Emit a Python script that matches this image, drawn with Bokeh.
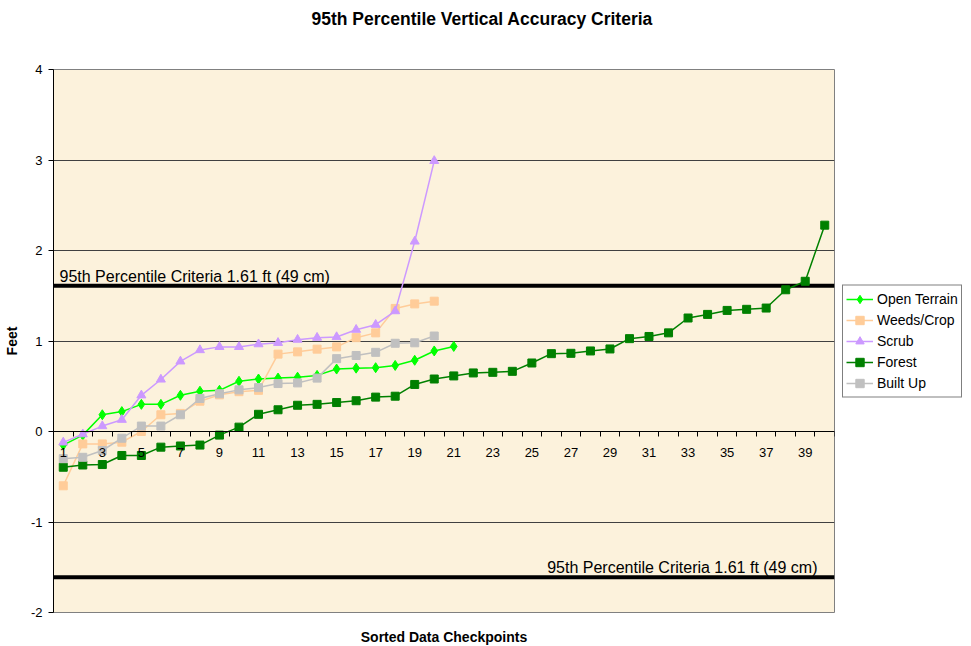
from bokeh.plotting import figure
from bokeh.models import LinearAxis, FixedTicker, Span, Label, Legend, LegendItem, Title
from bokeh.embed import file_html
from bokeh.resources import INLINE

# ---------------- data ----------------
checkpoints = list(range(1, 41))
open_terrain = [-0.15, -0.04, 0.185, 0.22, 0.30, 0.30, 0.40, 0.445, 0.455, 0.555,
                0.58, 0.59, 0.60, 0.62, 0.69, 0.70, 0.705, 0.73, 0.787, 0.89, 0.94]
weeds_crop = [-0.60, -0.137, -0.137, -0.118, 0.0, 0.185, 0.20, 0.335, 0.405, 0.44,
              0.455, 0.855, 0.88, 0.91, 0.935, 1.037, 1.09, 1.36, 1.41, 1.44]
scrub = [-0.12, -0.03, 0.06, 0.13, 0.40, 0.575, 0.775, 0.90, 0.935, 0.935,
         0.965, 0.98, 1.015, 1.037, 1.044, 1.125, 1.18, 1.33, 2.10, 2.99]
forest = [-0.395, -0.37, -0.365, -0.265, -0.265, -0.173, -0.16, -0.15, -0.04, 0.048,
          0.19, 0.24, 0.29, 0.30, 0.32, 0.34, 0.38, 0.39, 0.52, 0.58,
          0.614, 0.647, 0.654, 0.665, 0.757, 0.86, 0.864, 0.89, 0.912, 1.026,
          1.05, 1.09, 1.254, 1.294, 1.338, 1.35, 1.364, 1.566, 1.66, 2.28]
built_up = [-0.30, -0.285, -0.21, -0.074, 0.06, 0.06, 0.185, 0.365, 0.417, 0.46,
            0.485, 0.53, 0.537, 0.59, 0.805, 0.84, 0.875, 0.975, 0.98, 1.055]

series_names = ["Open Terrain", "Weeds/Crop", "Scrub", "Forest", "Built Up"]
series_values = [open_terrain, weeds_crop, scrub, forest, built_up]
series_colors = ["#00FF00", "#FFCC99", "#CC99FF", "#008000", "#C0C0C0"]
series_markers = ["diamond", "square", "triangle", "square", "square"]
series_sizes = [10, 8, 9, 8, 8]

y_ticks = [-2, -1, 0, 1, 2, 3, 4]
y_tick_labels = ["-2", "-1", "0", "1", "2", "3", "4"]
x_tick_labels = [str(c) for c in checkpoints if c % 2 == 1]
criteria = 1.61
criteria_text = "95th Percentile Criteria 1.61 ft (49 cm)"
title_text = "95th Percentile Vertical Accuracy Criteria"

FONT = "Liberation Sans"

p = figure(frame_width=781, frame_height=543, x_range=(0.5, 40.5), y_range=(-2, 4),
           output_backend="svg", toolbar_location=None,
           min_border_left=51, min_border_right=135, min_border_top=69, min_border_bottom=34,
           background_fill_color="#FCF2DC", border_fill_color="white",
           outline_line_color="#808080", outline_line_width=1)

# empty spacer between frame and title (pushes the title upwards)
p.add_layout(Title(text=" ", text_font_size="14px", standoff=23), "above")

p.title.text = title_text
p.title.align = "left"
p.title.offset = 258
p.title.standoff = 0
p.title.text_font = FONT
p.title.text_font_size = "17.5px"
p.title.text_font_style = "bold"
p.title.text_color = "black"

# grid
p.xgrid.grid_line_color = None
p.ygrid.ticker = FixedTicker(ticks=y_ticks)
p.ygrid.grid_line_color = "#404040"
p.ygrid.grid_line_width = 1

# y axis
p.yaxis.ticker = FixedTicker(ticks=y_ticks)
p.yaxis.major_label_overrides = {v: s for v, s in zip(y_ticks, y_tick_labels)}
p.yaxis.major_tick_in = 0
p.yaxis.major_tick_out = 5
p.yaxis.minor_tick_line_color = None
p.yaxis.axis_line_color = "black"
p.yaxis.major_label_standoff = 6
p.yaxis.major_label_text_font = FONT
p.yaxis.major_label_text_font_size = "13px"
p.yaxis.major_label_text_color = "black"
p.yaxis.axis_label = "Feet"
p.yaxis.axis_label_text_font = FONT
p.yaxis.axis_label_text_font_size = "14px"
p.yaxis.axis_label_text_font_style = "bold"
p.yaxis.axis_label_text_color = "black"
p.yaxis.axis_label_standoff = 8

# bottom axis used only for the axis title
p.xaxis.ticker = FixedTicker(ticks=[])
p.xaxis.axis_line_color = None
p.xaxis.major_tick_line_color = None
p.xaxis.minor_tick_line_color = None
p.xaxis.major_tick_out = 0
p.xaxis.axis_label = "Sorted Data Checkpoints"
p.xaxis.axis_label_text_font = FONT
p.xaxis.axis_label_text_font_size = "14px"
p.xaxis.axis_label_text_font_style = "bold"
p.xaxis.axis_label_text_color = "black"
p.xaxis.axis_label_standoff = 16

# x axis crossing at y = 0
boundaries = [c - 0.5 for c in checkpoints] + [checkpoints[-1] + 0.5]
tick_axis = LinearAxis(fixed_location=0, ticker=FixedTicker(ticks=boundaries),
                       major_label_text_color=None, major_tick_in=0, major_tick_out=5,
                       minor_tick_line_color=None, axis_line_color="black",
                       major_tick_line_color="black", major_tick_line_width=1)
label_pos = [int(s) for s in x_tick_labels]
label_axis = LinearAxis(fixed_location=0, ticker=FixedTicker(ticks=label_pos),
                        major_label_overrides={v: s for v, s in zip(label_pos, x_tick_labels)},
                        axis_line_color=None, major_tick_line_color=None, major_tick_out=0,
                        major_tick_in=0, minor_tick_line_color=None, major_label_standoff=16,
                        major_label_text_font=FONT, major_label_text_font_size="13px",
                        major_label_text_color="black")
p.add_layout(tick_axis, "below")
p.add_layout(label_axis, "below")

# criteria lines
for loc in (criteria, -criteria):
    p.add_layout(Span(location=loc, dimension="width", line_color="black",
                      line_width=4, level="underlay"))

p.add_layout(Label(x=0.5, y=criteria, x_offset=6, y_offset=1, text=criteria_text,
                   text_font=FONT, text_font_size="16px", text_baseline="bottom",
                   text_color="black"))
p.add_layout(Label(x=40.5, y=-criteria, x_offset=-17, y_offset=1, text=criteria_text,
                   text_font=FONT, text_font_size="16px", text_baseline="bottom",
                   text_align="right", text_color="black"))

items = []
for name, vals, col, mk, sz in zip(series_names, series_values, series_colors,
                                   series_markers, series_sizes):
    xs = checkpoints[:len(vals)]
    lr = p.line(xs, vals, line_color=col, line_width=1.5)
    sr = p.scatter(xs, vals, marker=mk, size=sz, fill_color=col, line_color=col)
    items.append(LegendItem(label=name, renderers=[lr, sr]))

legend = Legend(items=items, location="center_left", border_line_color="black",
                border_line_width=1, background_fill_color="white", background_fill_alpha=1,
                label_text_font=FONT, label_text_font_size="14px", label_text_color="black",
                glyph_width=27, glyph_height=21, label_height=21, spacing=0,
                padding=3, margin=8, label_standoff=4)
p.add_layout(legend, "right")

open("out.html", "w").write(file_html(p, INLINE))
